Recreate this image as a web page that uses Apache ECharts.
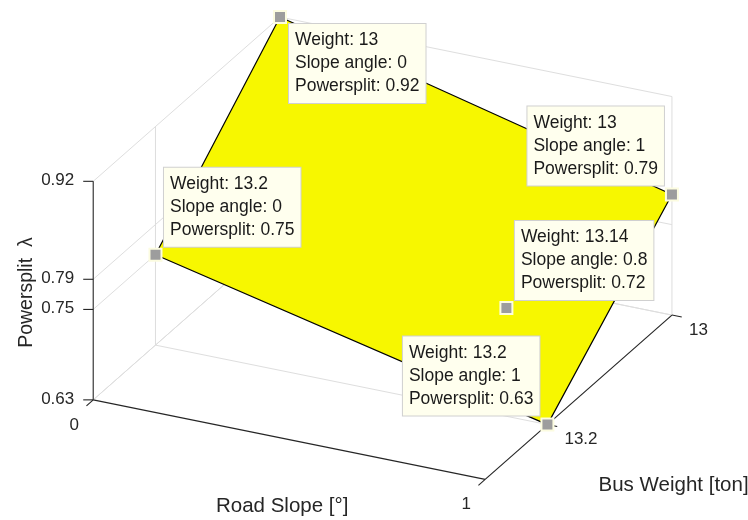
<!DOCTYPE html>
<html>
<head>
<meta charset="utf-8">
<script src="https://cdn.jsdelivr.net/npm/echarts@6/dist/echarts.min.js"></script>
<style>
  html, body { margin: 0; padding: 0; background: #ffffff; }
  #chart { width: 748px; height: 520px; }
</style>
</head>
<body>
<div id="chart"></div>
<script>
// Axis limits and tick values
const slopeRange = [0, 1];
const weightRange = [13, 13.3];
const powerRange = [0.63, 0.92];
const slopeTicks = [0, 1];
const weightTicks = [13, 13.2];
const powerTicks = [0.63, 0.75, 0.79, 0.92];

// Surface grid: rows follow bus weight, columns follow road slope
const surfSlope = [0, 1];
const surfWeight = [13, 13.2];
const surfPower = [
  [0.92, 0.79],
  [0.75, 0.63]
];

// Data tips placed on the surface
const tipSlope = [0, 1, 0, 0.8, 1];
const tipWeight = [13, 13, 13.2, 13.14, 13.2];
const tipPower = [0.92, 0.79, 0.75, 0.72, 0.63];
const tipSide = ['se', 'nw', 'ne', 'ne', 'nw'];

// Orthographic 3D view: azimuth / elevation (deg), plot-box scale (px), box origin (px)
const VIEW = { az: 25.65, el: 24.98, kx: 434.8, ky: 431.5, kz: 241.1, ox: 280, oy: 235.6 };

const FONT = '"Liberation Sans", Arial, Helvetica, sans-serif';
const AXIS_COLOR = '#262626';
const GRID_COLOR = '#dedede';
const TIP_FONT_SIZE = 17.5;
const TIP_PAD = [5, 6, 5, 6];

function project(s, w, z) {
  const xn = (s - slopeRange[0]) / (slopeRange[1] - slopeRange[0]);
  const yn = (w - weightRange[0]) / (weightRange[1] - weightRange[0]);
  const zn = (z - powerRange[0]) / (powerRange[1] - powerRange[0]);
  const a = VIEW.az * Math.PI / 180, e = VIEW.el * Math.PI / 180;
  const right = VIEW.kx * xn * Math.cos(a) - VIEW.ky * yn * Math.sin(a);
  const up = -Math.sin(e) * (VIEW.kx * xn * Math.sin(a) + VIEW.ky * yn * Math.cos(a)) + VIEW.kz * zn * Math.cos(e);
  return [VIEW.ox + right, VIEW.oy - up];
}

// Width of the widest line of a multi-line string
const measureCtx = document.createElement('canvas').getContext('2d');
function textWidth(str, size) {
  measureCtx.font = size + 'px ' + FONT;
  return Math.max.apply(null, str.split('\n').map(l => measureCtx.measureText(l).width));
}

const [s0, s1] = slopeRange;
const [w0, w1] = weightRange;
const [z0, z1] = powerRange;

// Grid lines on the three back planes
const gridSegs = [];
powerTicks.forEach(z => {
  gridSegs.push([s0, w0, z, s1, w0, z]);
  gridSegs.push([s0, w0, z, s0, w1, z]);
});
slopeTicks.forEach(s => {
  gridSegs.push([s, w0, z0, s, w0, z1]);
  gridSegs.push([s, w0, z0, s, w1, z0]);
});
weightTicks.forEach(w => {
  gridSegs.push([s0, w, z0, s0, w, z1]);
  gridSegs.push([s0, w, z0, s1, w, z0]);
});

// Axis lines
const axisSegs = [
  [s0, w1, z0, s0, w1, z1],
  [s0, w1, z0, s1, w1, z0],
  [s1, w0, z0, s1, w1, z0]
];

// Tick items: [axis id, value]
const tickItems = [];
powerTicks.forEach(v => tickItems.push([0, v]));
slopeTicks.forEach(v => tickItems.push([1, v]));
weightTicks.forEach(v => tickItems.push([2, v]));

// Surface cells
const cells = [];
for (let i = 0; i < surfWeight.length - 1; i++) {
  for (let j = 0; j < surfSlope.length - 1; j++) cells.push([i, j]);
}

const tipData = tipSlope.map((s, i) => [s, tipWeight[i], tipPower[i], i]);

function unit(p, q) {
  const dx = q[0] - p[0], dy = q[1] - p[1];
  const l = Math.hypot(dx, dy);
  return [dx / l, dy / l];
}

function pt(api, s, w, z) {
  return api.coord(project(s, w, z));
}

const chart = echarts.init(document.getElementById('chart'), null, { renderer: 'canvas' });

chart.setOption({
  animation: false,
  backgroundColor: '#ffffff',
  grid: { left: 0, right: 0, top: 0, bottom: 0 },
  xAxis: { type: 'value', min: 0, max: 748, show: false },
  yAxis: { type: 'value', min: 0, max: 520, inverse: true, show: false },
  series: [
    {
      name: 'grid',
      type: 'custom',
      silent: true,
      z: 1,
      data: gridSegs,
      renderItem(params, api) {
        const a = pt(api, api.value(0), api.value(1), api.value(2));
        const b = pt(api, api.value(3), api.value(4), api.value(5));
        return { type: 'line', shape: { x1: a[0], y1: a[1], x2: b[0], y2: b[1] },
                 style: { stroke: GRID_COLOR, lineWidth: 1 } };
      }
    },
    {
      name: 'axes',
      type: 'custom',
      silent: true,
      z: 2,
      data: axisSegs,
      renderItem(params, api) {
        const a = pt(api, api.value(0), api.value(1), api.value(2));
        const b = pt(api, api.value(3), api.value(4), api.value(5));
        return { type: 'line', shape: { x1: a[0], y1: a[1], x2: b[0], y2: b[1] },
                 style: { stroke: AXIS_COLOR, lineWidth: 1.1 } };
      }
    },
    {
      name: 'ticks',
      type: 'custom',
      silent: true,
      z: 2,
      data: tickItems,
      renderItem(params, api) {
        const axis = api.value(0), v = api.value(1);
        let p, dir, len, lx, ly, align;
        if (axis === 0) {
          p = pt(api, s0, w1, v);
          dir = [-1, 0]; len = 10;
          lx = p[0] - 19; ly = p[1] - 1; align = 'right';
        } else if (axis === 1) {
          p = pt(api, v, w1, z0);
          dir = unit(pt(api, v, w0, z0), p); len = 9;
          lx = p[0] - 19; ly = p[1] + 25; align = 'center';
        } else {
          p = pt(api, s1, v, z0);
          dir = unit(pt(api, s0, v, z0), p); len = 10;
          lx = p[0] + 17; ly = p[1] + 15; align = 'left';
        }
        return {
          type: 'group',
          children: [
            { type: 'line', shape: { x1: p[0], y1: p[1], x2: p[0] + dir[0] * len, y2: p[1] + dir[1] * len },
              style: { stroke: AXIS_COLOR, lineWidth: 1.1 } },
            { type: 'text', style: { text: String(v), x: lx, y: ly, align: align, verticalAlign: 'middle',
              fill: AXIS_COLOR, fontSize: 17, fontFamily: FONT } }
          ]
        };
      }
    },
    {
      name: 'titles',
      type: 'custom',
      silent: true,
      z: 2,
      data: [[0], [1], [2]],
      renderItem(params, api) {
        const k = api.value(0);
        let a, b, dx, dy, rot = 0, text;
        if (k === 0) {
          a = pt(api, s0, w1, z0); b = pt(api, s0, w1, z1);
          dx = -67; dy = 2; rot = Math.PI / 2; text = 'Powersplit  λ';
        } else if (k === 1) {
          a = pt(api, s0, w1, z0); b = pt(api, s1, w1, z0);
          dx = -7; dy = 67; text = 'Road Slope [°]';
        } else {
          a = pt(api, s1, w0, z0); b = pt(api, s1, w1, z0);
          dx = 95; dy = 88; text = 'Bus Weight [ton]';
        }
        return {
          type: 'text',
          x: (a[0] + b[0]) / 2 + dx,
          y: (a[1] + b[1]) / 2 + dy,
          rotation: rot,
          style: { text: text, x: 0, y: 0, align: 'center', verticalAlign: 'middle',
                   fill: AXIS_COLOR, fontSize: k === 0 ? 19.5 : 20.5, fontFamily: FONT }
        };
      }
    },
    {
      name: 'surface',
      type: 'custom',
      silent: true,
      z: 3,
      data: cells,
      renderItem(params, api) {
        const i = api.value(0), j = api.value(1);
        const corners = [
          [surfSlope[j], surfWeight[i], surfPower[i][j]],
          [surfSlope[j + 1], surfWeight[i], surfPower[i][j + 1]],
          [surfSlope[j + 1], surfWeight[i + 1], surfPower[i + 1][j + 1]],
          [surfSlope[j], surfWeight[i + 1], surfPower[i + 1][j]]
        ];
        return {
          type: 'polygon',
          shape: { points: corners.map(c => pt(api, c[0], c[1], c[2])) },
          style: { fill: '#f7f700', stroke: '#000000', lineWidth: 1.2, lineJoin: 'round' }
        };
      }
    },
    {
      name: 'tips',
      type: 'custom',
      silent: true,
      z: 4,
      data: tipData,
      renderItem(params, api) {
        const s = api.value(0), w = api.value(1), z = api.value(2), idx = api.value(3);
        const c = pt(api, s, w, z);
        const side = tipSide[idx];
        const text = 'Weight: ' + w + '\nSlope angle: ' + s + '\nPowersplit: ' + z;
        const boxW = textWidth(text, TIP_FONT_SIZE) + TIP_PAD[1] + TIP_PAD[3];
        let tx, ty, valign;
        if (side === 'se') { tx = c[0] + 9; ty = c[1] + 7; valign = 'top'; }
        else if (side === 'nw') { tx = c[0] - 8 - boxW; ty = c[1] - 9; valign = 'bottom'; }
        else { tx = c[0] + 8.5; ty = c[1] - 8; valign = 'bottom'; }
        return {
          type: 'group',
          children: [
            { type: 'rect', shape: { x: c[0] - 6, y: c[1] - 6, width: 12, height: 12 },
              style: { fill: '#9d9d9d', stroke: '#fcfce0', lineWidth: 2 } },
            { type: 'text', style: {
                text: text, x: tx, y: ty, align: 'left', verticalAlign: valign,
                fill: '#1a1a1a', fontSize: TIP_FONT_SIZE, fontFamily: FONT, lineHeight: 23,
                backgroundColor: '#ffffee', borderColor: '#d0d0d0', borderWidth: 1,
                padding: TIP_PAD } }
          ]
        };
      }
    }
  ]
});
</script>
</body>
</html>
